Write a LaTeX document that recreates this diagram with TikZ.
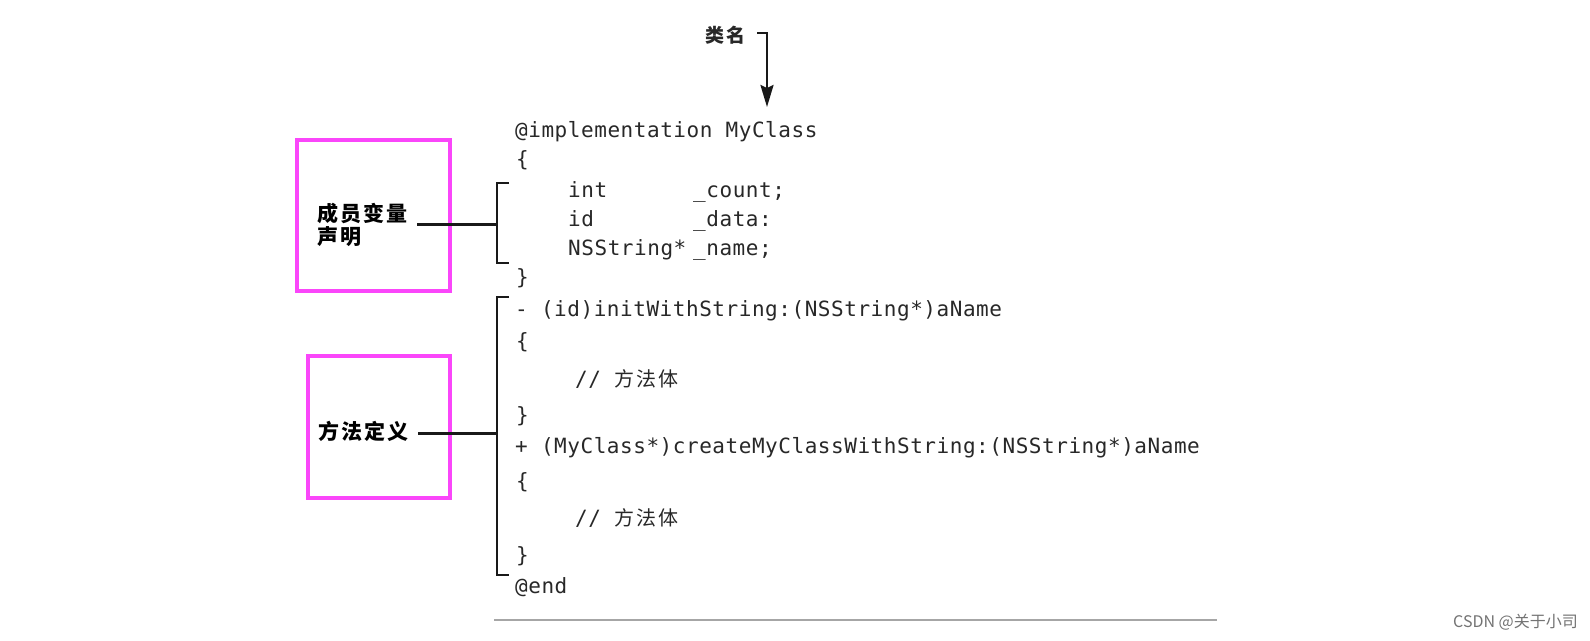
\documentclass[tikz,border=0pt]{standalone}
\usepackage{fontspec}
\usetikzlibrary{arrows.meta}
\newfontfamily\codefont[LetterSpace=2.6]{DejaVu Sans Mono}
\newfontfamily\cjk{Noto Sans CJK SC}
\newfontfamily\cjksp[LetterSpace=10]{Noto Sans CJK SC}
\definecolor{hlpink}{RGB}{250,70,250}
\definecolor{codeink}{RGB}{40,40,40}
\begin{document}
\begin{tikzpicture}[x=1pt,y=-1pt,
  codeline/.style={anchor=base west,inner sep=0pt,text=codeink,font=\codefont\fontsize{21}{21}\selectfont},
  lbl/.style={anchor=north west,inner sep=0pt,align=left,text=black,font=\cjksp\bfseries\fontsize{21}{23}\selectfont},
  hlbox/.style={draw=hlpink,line width=4pt,inner sep=0pt},
  wire/.style={draw=black!90,line width=3pt},
  brk/.style={draw=black!90,line width=2.8pt,line cap=butt,line join=miter}]
\useasboundingbox (0,0) rectangle (1590,640);
\fill[white] (0,0) rectangle (1590,640);

% highlight boxes
\node[hlbox,minimum width=153pt,minimum height=151pt] (box1) at (373.5,215.5) {};
\node[hlbox,minimum width=142pt,minimum height=142pt] (box2) at (379,427) {};

% labels
\node[lbl] (lab1) at (317,203) {成员变量\\声明};
\node[lbl] (lab2) at (318,421) {方法定义};
\node[anchor=base west,inner sep=0pt,font=\cjksp\bfseries\fontsize{19}{19}\selectfont,text=codeink] (cls) at (705,42) {类名};

% code
\node[codeline] (c1) at (515,137) {@implementation MyClass};
\node[codeline] (c2) at (516,166) {\{};
\node[codeline] (c3) at (568,197) {\makebox[125pt][l]{int}\_count;};
\node[codeline] (c4) at (568,226) {\makebox[125pt][l]{id}\_data:};
\node[codeline] (c5) at (568,255) {\makebox[125pt][l]{NSString*}\_name;};
\node[codeline] (c6) at (516,284) {\}};
\node[codeline] (c7) at (515,316) {- (id)initWithString:(NSString*)aName};
\node[codeline] (c8) at (516,348) {\{};
\node[codeline] (c9) at (575,386) {// {\cjksp\fontsize{20}{20}\selectfont 方法体}};
\node[codeline] (c10) at (516,422) {\}};
\node[codeline] (c11) at (515,453) {+ (MyClass*)createMyClassWithString:(NSString*)aName};
\node[codeline] (c12) at (516,488) {\{};
\node[codeline] (c13) at (575,525) {// {\cjksp\fontsize{20}{20}\selectfont 方法体}};
\node[codeline] (c14) at (516,562) {\}};
\node[codeline] (c15) at (515,593) {@end};

% class-name arrow
\coordinate (a0) at (757,33);
\coordinate (a1) at (767,33);
\coordinate (a2) at (767,107);
\draw[draw=black!90,line width=2.4pt,-{Stealth[length=22pt,width=13pt,inset=3pt]}] (a0) -- (a1) -- (a2);

% bracket 1 (member variables)
\coordinate (b1t) at (509,183);
\coordinate (b1b) at (509,263);
\draw[brk] (b1t) -- (497,183) -- (497,263) -- (b1b);
\coordinate (w1s) at (417,224);
\coordinate (w1e) at (497,224);
\draw[wire] (w1s) -- (w1e);

% bracket 2 (methods)
\coordinate (b2t) at (509,297);
\coordinate (b2b) at (509,575);
\draw[brk] (b2t) -- (497,297) -- (497,575) -- (b2b);
\coordinate (w2s) at (418,433);
\coordinate (w2e) at (497,433);
\draw[wire] (w2s) -- (w2e);

% bottom rule
\coordinate (r0) at (494,620);
\coordinate (r1) at (1217,620);
\draw[draw=black!35,line width=1.3pt] (r0) -- (r1);

% watermark
\node[anchor=east,inner sep=0pt,text=black!55,font=\cjk\fontsize{16}{16}\selectfont] (wm) at (1578,622) {CSDN @关于小司};
\end{tikzpicture}
\end{document}
